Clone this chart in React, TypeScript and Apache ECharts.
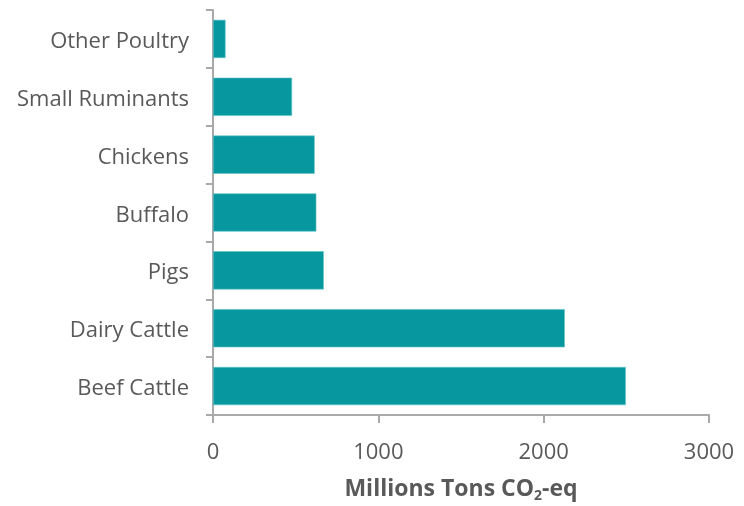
import React, { useEffect, useRef } from "react";
import * as echarts from "echarts";

const categories = [
  "Other Poultry",
  "Small Ruminants",
  "Chickens",
  "Buffalo",
  "Pigs",
  "Dairy Cattle",
  "Beef Cattle",
];
const values = [76, 478, 615, 625, 670, 2128, 2497];
const xMin = 0;
const xMax = 3000;
const xInterval = 1000;

export default function App() {
  const ref = useRef<HTMLDivElement>(null);
  useEffect(() => {
    if (!ref.current) return;
    const chart = echarts.init(ref.current, null, { renderer: "svg" });
    const font = "'Open Sans', 'Segoe UI', sans-serif";
    const axisColor = "#a9a9a9";
    chart.setOption({
      animation: false,
      textStyle: { fontFamily: font },
      grid: { left: 213, right: 35, top: 10, bottom: 72, containLabel: false },
      xAxis: {
        type: "value",
        min: xMin,
        max: xMax,
        interval: xInterval,
        axisLine: { show: true, lineStyle: { color: axisColor, width: 2 } },
        axisTick: { show: true, length: 8, lineStyle: { color: axisColor, width: 2 } },
        splitLine: { show: false },
        axisLabel: {
          color: "#595959",
          fontSize: 22,
          margin: 24,
          fontFamily: font,
          formatter: (v: number) => String(v),
        },
        name: "{b|Millions Tons CO}{s|2}{b|-eq}",
        nameLocation: "middle",
        nameGap: 58,
        nameTextStyle: {
          rich: {
            b: { fontSize: 23, fontWeight: "bold", color: "#595959", fontFamily: font },
            s: {
              fontSize: 14,
              fontWeight: "bold",
              color: "#595959",
              fontFamily: font,
              verticalAlign: "bottom",
              padding: [14, 0, 0, 0],
            },
          },
        },
      },
      yAxis: {
        type: "category",
        data: categories,
        inverse: true,
        axisLine: { show: true, lineStyle: { color: axisColor, width: 2 } },
        axisTick: { show: true, length: 7, lineStyle: { color: axisColor, width: 2 } },
        axisLabel: { color: "#595959", fontSize: 22, margin: 24, fontFamily: font },
        splitLine: { show: false },
      },
      series: [
        {
          type: "bar",
          data: values,
          barCategoryGap: "34%",
          itemStyle: { color: "#07979F", borderColor: "#5fc3c8", borderWidth: 0.6 },
        },
      ],
    });
    return () => chart.dispose();
  }, []);
  return (
    <div
      ref={ref}
      style={{ position: "fixed", left: 0, top: 0, width: 744, height: 506 }}
    />
  );
}
